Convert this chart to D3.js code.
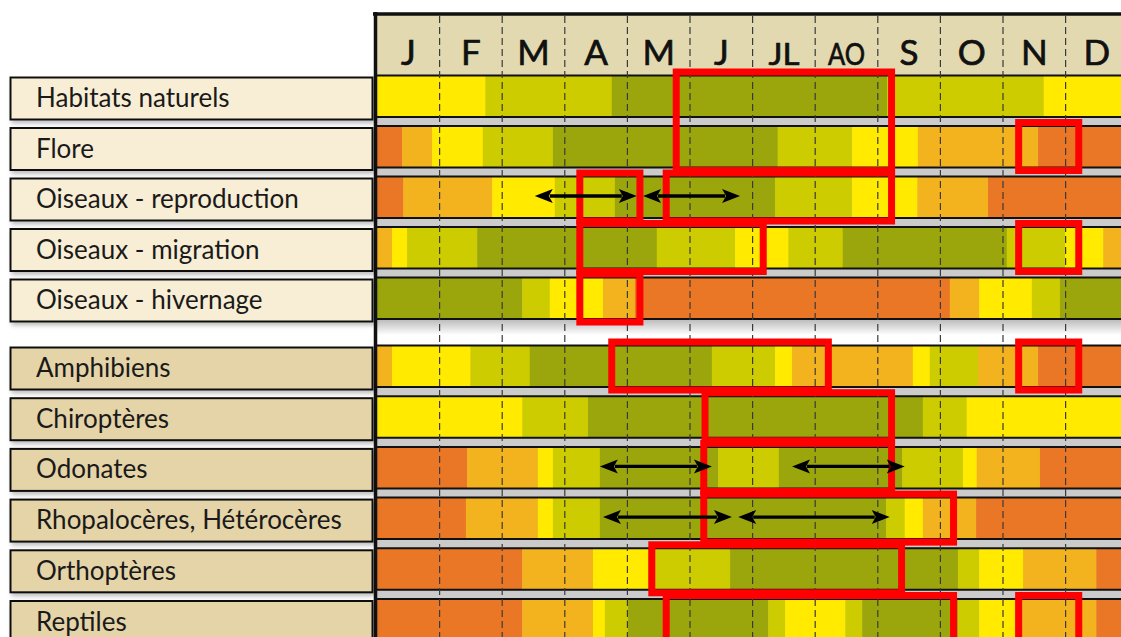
<!DOCTYPE html>
<html><head><meta charset="utf-8">
<script src="https://cdn.jsdelivr.net/npm/d3@7"></script>
<style>body{margin:0;background:#fff}svg{display:block}</style>
</head><body>
<svg id="c" width="1121" height="637"></svg>
<script>
// ---------- DATA ----------
const months = ["J","F","M","A","M","J","JL","AO","S","O","N","D"];
const categories = ["Habitats naturels","Flore","Oiseaux - reproduction","Oiseaux - migration","Oiseaux - hivernage",
  "Amphibiens","Chiroptères","Odonates","Rhopalocères, Hétérocères","Orthoptères","Reptiles"];
// level codes: O = orange, o = light orange, Y = yellow, g = yellow-green, G = olive
const levelCodes = ["O","o","Y","g","G"];
// each row: [start month (0..12), level]
const habitats  = [[0,"Y"],[1.73,"g"],[3.75,"G"],[8.15,"g"],[10.65,"Y"]];
const flore     = [[0,"O"],[0.4,"o"],[0.88,"Y"],[1.69,"g"],[2.81,"G"],[6.4,"g"],[7.59,"Y"],[8.64,"o"],[10.56,"O"]];
const oisRepro  = [[0,"O"],[0.42,"o"],[1.84,"Y"],[2.84,"g"],[3.8,"G"],[6.36,"g"],[7.59,"Y"],[8.63,"o"],[9.76,"O"]];
const oisMigr   = [[0,"o"],[0.24,"Y"],[0.48,"g"],[1.6,"G"],[4.47,"g"],[5.72,"Y"],[6.57,"g"],[7.44,"G"],[10.06,"g"],[10.99,"Y"],[11.6,"o"]];
const oisHiv    = [[0,"G"],[2.32,"g"],[2.76,"Y"],[3.61,"o"],[4.12,"O"],[9.15,"o"],[9.62,"Y"],[10.46,"g"],[10.91,"G"]];
const amphibiens= [[0,"o"],[0.24,"Y"],[1.49,"g"],[2.44,"G"],[5.35,"g"],[6.36,"Y"],[6.63,"o"],[8.56,"Y"],[8.83,"g"],[9.6,"o"],[10.56,"O"]];
const chiropteres=[[0,"Y"],[2.32,"g"],[3.37,"G"],[8.72,"g"],[9.42,"Y"]];
const odonates  = [[0,"O"],[1.44,"o"],[2.57,"Y"],[2.81,"g"],[3.56,"G"],[5.45,"g"],[6.42,"G"],[8.39,"g"],[9.36,"Y"],[9.58,"o"],[10.59,"O"]];
const rhopalo   = [[0,"O"],[1.42,"o"],[2.57,"Y"],[2.81,"g"],[3.56,"G"],[8.13,"g"],[8.43,"Y"],[8.72,"o"],[9.57,"O"]];
const orthopteres=[[0,"O"],[2.32,"o"],[3.45,"Y"],[4.33,"g"],[5.64,"G"],[9.28,"g"],[9.62,"Y"],[10.32,"o"],[11.49,"O"]];
const reptiles  = [[0,"O"],[2.32,"o"],[3.45,"Y"],[3.64,"g"],[4.01,"G"],[6.25,"g"],[6.52,"Y"],[7.48,"g"],[7.75,"G"],[9.28,"g"],[9.62,"Y"],[10.19,"o"],[11.49,"O"]];
const rowsData = [habitats, flore, oisRepro, oisMigr, oisHiv, amphibiens, chiropteres, odonates, rhopalo, orthopteres, reptiles];
// red frames: [start month, end month, first row, last row]
const frames = [[4.78,8.22,0,1],[10.25,11.21,1,1],[3.24,4.2,2,2],[4.62,8.22,2,2],[3.24,6.17,3,3],[10.25,11.21,3,3],
  [3.24,4.2,4,4],[3.75,7.21,5,5],[10.25,11.21,5,5],[5.24,8.22,6,6],[5.22,8.22,7,7],[5.22,9.21,8,8],
  [4.39,8.38,9,9],[4.62,9.21,10,10],[10.25,11.21,10,10]];
// double arrows: [start month, end month, row]
const arrows = [[2.52,4.15,2],[4.25,5.8,2],[3.56,5.35,7],[6.63,8.43,7],[3.61,5.67,8],[5.77,8.19,8]];

// ---------- STYLE ----------
const colors = {O:"#e97726", o:"#f3b31e", Y:"#ffea00", g:"#cccc00", G:"#9ba60c"};
const W = 1121, H = 637;
const svg = d3.select("#c");
const x = d3.scaleLinear().domain([0,12]).range([377, 1128.2]);
const barH = 42;
const rowTop = i => i < 5 ? 75 + i*50.5 : 345 + (i-5)*50.7;
const color = d3.scaleOrdinal().domain(levelCodes).range(levelCodes.map(k=>colors[k]));
const defs = svg.append("defs");
const grad = defs.append("linearGradient").attr("id","sh").attr("x1",0).attr("x2",0).attr("y1",0).attr("y2",1);
grad.append("stop").attr("offset",0).attr("stop-color","#b9b9b9");
grad.append("stop").attr("offset",1).attr("stop-color","#ffffff");
const flt = defs.append("filter").attr("id","ds").attr("x","-5%").attr("y","-20%").attr("width","115%").attr("height","160%");
flt.append("feDropShadow").attr("dx",2).attr("dy",3).attr("stdDeviation",2).attr("flood-color","#000").attr("flood-opacity",0.25);

// gray gaps between rows
const gaps = svg.append("g");
categories.forEach((c,i)=>{
  const yb = rowTop(i)+barH;
  if(i===4){
    gaps.append("rect").attr("x",x(0)).attr("y",yb).attr("width",W-x(0)).attr("height",16).attr("fill","url(#sh)");
  } else {
    const next = i===categories.length-1 ? H : rowTop(i+1);
    gaps.append("rect").attr("x",x(0)).attr("y",yb).attr("width",W-x(0)).attr("height",next-yb).attr("fill","#cbcbcb");
  }
});

// header
svg.append("rect").attr("x",x(0)).attr("y",14).attr("width",W-x(0)).attr("height",61).attr("fill","#e3d9b0");

// bars
const bars = svg.append("g");
rowsData.forEach((segs,i)=>{
  segs.forEach((s,j)=>{
    const end = j<segs.length-1 ? segs[j+1][0] : 12;
    bars.append("rect").attr("x",x(s[0])).attr("y",rowTop(i))
      .attr("width",x(end)-x(s[0])+0.5).attr("height",barH).attr("fill",color(s[1]));
  });
  bars.append("line").attr("x1",x(0)).attr("x2",W).attr("y1",rowTop(i)+0.5).attr("y2",rowTop(i)+0.5).attr("stroke","#111").attr("stroke-width",2);
  bars.append("line").attr("x1",x(0)).attr("x2",W).attr("y1",rowTop(i)+barH).attr("y2",rowTop(i)+barH).attr("stroke","#111").attr("stroke-width",2);
});

// month dashed lines
const grid = svg.append("g");
d3.range(1,12).forEach(m=>{
  grid.append("line").attr("x1",x(m)).attr("x2",x(m)).attr("y1",16).attr("y2",H)
    .attr("stroke","#3a3a3a").attr("stroke-width",1.2).attr("stroke-dasharray","7,4");
});

// header border lines
svg.append("line").attr("x1",373).attr("x2",W).attr("y1",14).attr("y2",14).attr("stroke","#111").attr("stroke-width",3.5);
svg.append("line").attr("x1",375.5).attr("x2",375.5).attr("y1",12).attr("y2",H).attr("stroke","#111").attr("stroke-width",3.5);

// month labels
svg.append("g").selectAll("text").data(months).join("text")
  .attr("x",(d,i)=>x(i+0.5)).attr("y",65).attr("text-anchor","middle")
  .attr("font-family","Lato, 'DejaVu Sans', sans-serif").attr("font-size",d=>d.length>1?31:35)
  .attr("fill","#111").attr("stroke","#111").attr("stroke-width",0.7)
  .each(function(d){ if(d.length>1){ d3.select(this).attr("textLength",d==="JL"?31:37).attr("lengthAdjust","spacingAndGlyphs"); } })
  .text(d=>d);

// label boxes
const lab = svg.append("g");
categories.forEach((c,i)=>{
  const t = rowTop(i);
  lab.append("rect").attr("x",10.5).attr("y",t+2.5).attr("width",362).attr("height",barH)
    .attr("fill", i<5 ? "#f8eed5" : "#e5d4a8").attr("stroke","#111").attr("stroke-width",2)
    .attr("filter","url(#ds)");
  lab.append("text").attr("x",36).attr("y",t+32).attr("font-family","Lato, 'DejaVu Sans', sans-serif")
    .attr("font-size",26).attr("fill","#1a1a1a").text(c);
});

// red frames
svg.append("g").selectAll("rect").data(frames).join("rect")
  .attr("x",d=>x(d[0])).attr("y",d=>rowTop(d[2])-3)
  .attr("width",d=>x(d[1])-x(d[0])).attr("height",d=>rowTop(d[3])+barH+3-(rowTop(d[2])-3))
  .attr("fill","none").attr("stroke","#ff0000").attr("stroke-width",7);

// arrows
const ag = svg.append("g");
arrows.forEach(a=>{
  const x1 = x(a[0]), x2 = x(a[1]), yc = rowTop(a[2])+barH/2-1, hl = 18, hw = 7;
  ag.append("line").attr("x1",x1+hl-3).attr("x2",x2-hl+3).attr("y1",yc).attr("y2",yc).attr("stroke","#000").attr("stroke-width",3.3);
  ag.append("path").attr("d",`M${x1},${yc} L${x1+hl},${yc-hw} L${x1+hl-4},${yc} L${x1+hl},${yc+hw} Z`).attr("fill","#000");
  ag.append("path").attr("d",`M${x2},${yc} L${x2-hl},${yc-hw} L${x2-hl+4},${yc} L${x2-hl},${yc+hw} Z`).attr("fill","#000");
});
</script>
</body></html>
